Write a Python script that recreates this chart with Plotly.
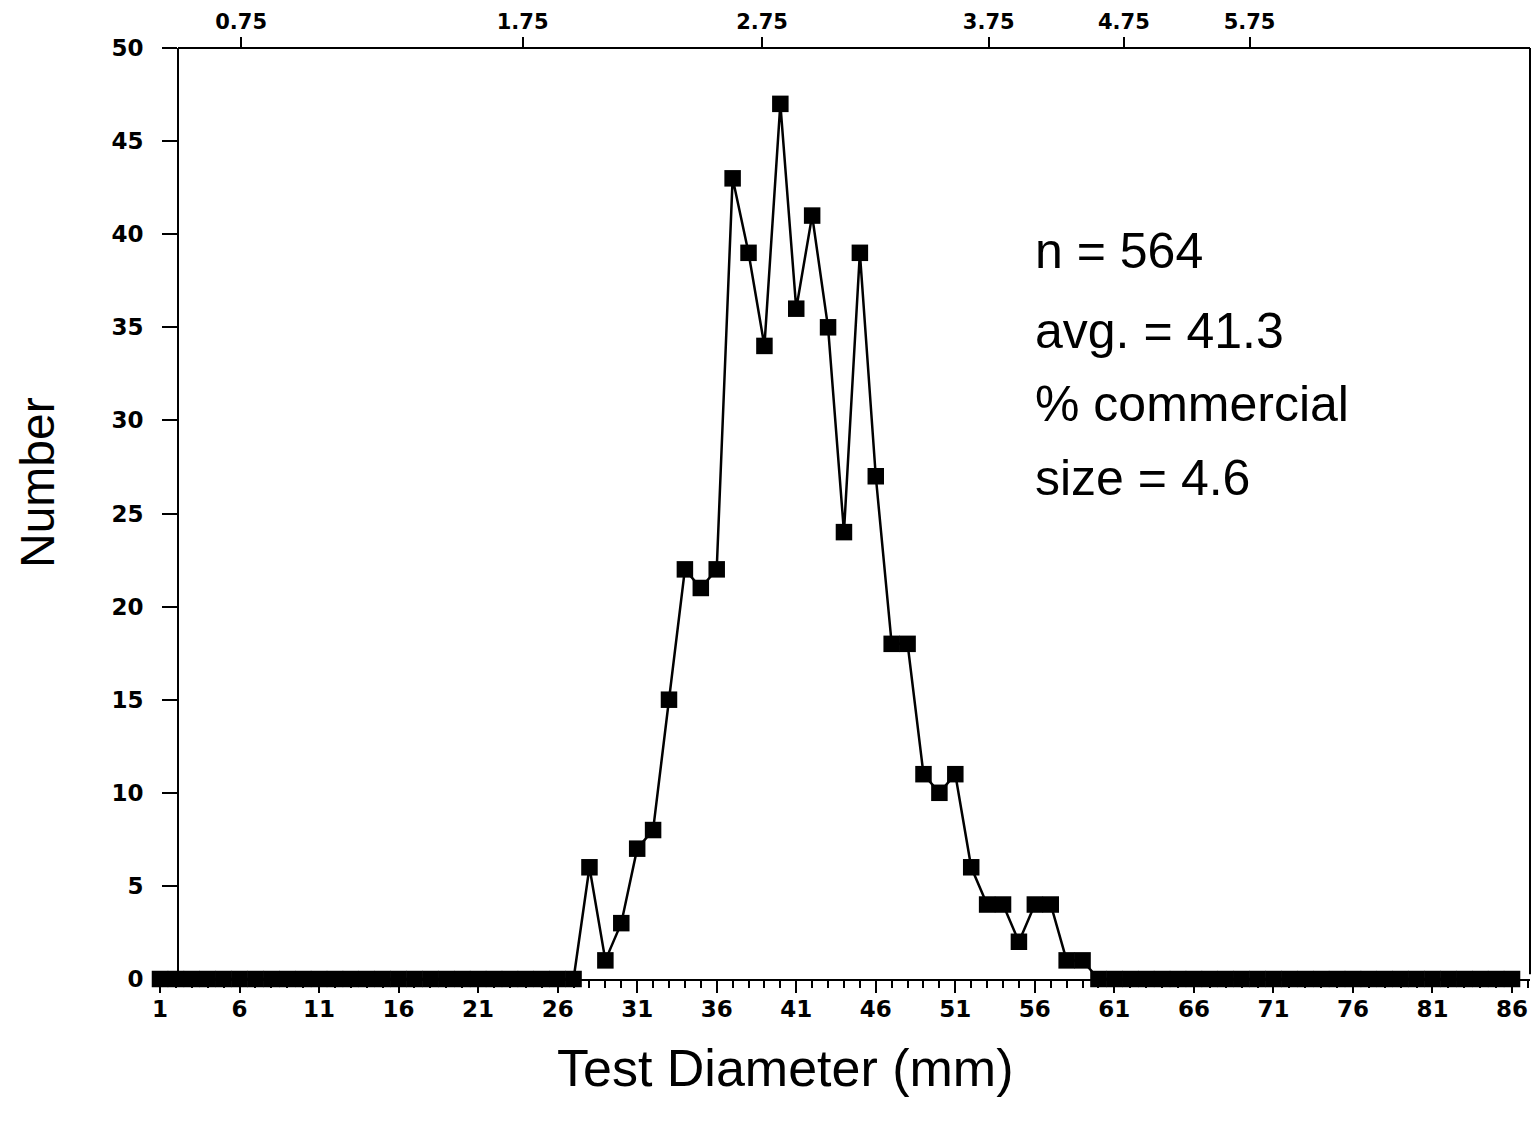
import plotly.graph_objects as go

# ---- data ----
diameters = list(range(1, 87))
counts_nonzero = {
    28: 6, 29: 1, 30: 3, 31: 7, 32: 8, 33: 15, 34: 22, 35: 21, 36: 22,
    37: 43, 38: 39, 39: 34, 40: 47, 41: 36, 42: 41, 43: 35, 44: 24,
    45: 39, 46: 27, 47: 18, 48: 18, 49: 11, 50: 10, 51: 11, 52: 6,
    53: 4, 54: 4, 55: 2, 56: 4, 57: 4, 58: 1, 59: 1,
}
counts = [counts_nonzero.get(d, 0) for d in diameters]

bottom_tick_vals = list(range(1, 87, 5))
y_tick_vals = list(range(0, 51, 5))
top_tick_labels = ["0.75", "1.75", "2.75", "3.75", "4.75", "5.75"]
top_tick_positions = [6.1, 23.8, 38.85, 53.1, 61.6, 69.5]
stats_lines = ["n = 564", "avg. = 41.3", "% commercial", "size = 4.6"]

# ---- style ----
W, H = 1535, 1129
ML, MR, MT, MB = 155, 5, 48, 150
XR = [0.686, 87.13]
YR = [0, 50]
tick_font = dict(family="DejaVu Sans", size=23, color="black", weight="bold")
title_font = "Liberation Sans, Arial, sans-serif"
yaxis_pos = (178 - ML) / (W - ML - MR)

fig = go.Figure()
fig.add_trace(go.Scatter(
    x=diameters, y=counts, mode="lines+markers",
    line=dict(color="black", width=2.5),
    marker=dict(symbol="square", size=16.5, color="black"),
    cliponaxis=False, showlegend=False, hoverinfo="x+y",
))
# invisible trace so the top axis renders
fig.add_trace(go.Scatter(
    x=diameters, y=counts, xaxis="x2", mode="markers",
    marker=dict(opacity=0), showlegend=False, hoverinfo="skip",
))

fig.update_layout(
    width=W, height=H,
    margin=dict(l=ML, r=MR, t=MT, b=MB),
    paper_bgcolor="white", plot_bgcolor="white",
    xaxis=dict(
        range=XR, showgrid=False, zeroline=False,
        showline=True, linecolor="black", linewidth=2,
        tickvals=bottom_tick_vals, ticks="outside", ticklen=12, tickwidth=2,
        tickcolor="black", tickfont=tick_font, ticklabelstandoff=-4,
        minor=dict(tick0=1, dtick=1, ticks="outside", ticklen=7, tickwidth=1.5, tickcolor="black"),
    ),
    xaxis2=dict(
        range=XR, overlaying="x", side="top", anchor="y",
        showgrid=False, zeroline=False, showline=False,
        tickvals=top_tick_positions, ticktext=top_tick_labels,
        ticks="outside", ticklen=10, tickwidth=2, tickcolor="black",
        tickfont=dict(family="DejaVu Sans", size=21, color="black", weight="bold"),
    ),
    yaxis=dict(
        range=YR, showgrid=False, zeroline=False,
        anchor="free", position=yaxis_pos,
        showline=True, linecolor="black", linewidth=2,
        tickvals=y_tick_vals, ticks="outside", ticklen=15, tickwidth=2,
        tickcolor="black", tickfont=tick_font, ticklabelstandoff=14,
    ),
    shapes=[
        dict(type="line", xref="paper", yref="paper", x0=yaxis_pos, x1=1, y0=1, y1=1,
             line=dict(color="black", width=2)),
        dict(type="line", xref="paper", yref="paper", x0=1, x1=1, y0=0.005, y1=1,
             line=dict(color="black", width=2)),
    ],
)

annotations = []
stat_y = [39.1, 34.8, 30.9, 26.9]
for txt, yy in zip(stats_lines, stat_y):
    annotations.append(dict(
        x=55.9, y=yy, xref="x", yref="y", text=txt, showarrow=False,
        xanchor="left", yanchor="middle",
        font=dict(family=title_font, size=50, color="black"),
    ))
annotations.append(dict(
    x=(785 - ML) / (W - ML - MR), y=(979 - 1068) / (979 - MT),
    xref="paper", yref="paper", text="Test Diameter (mm)", showarrow=False,
    xanchor="center", yanchor="middle",
    font=dict(family=title_font, size=52, color="black"),
))
annotations.append(dict(
    x=(37 - ML) / (W - ML - MR), y=(979 - 483) / (979 - MT),
    xref="paper", yref="paper", text="Number", showarrow=False, textangle=-90,
    xanchor="center", yanchor="middle",
    font=dict(family=title_font, size=48, color="black"),
))
fig.update_layout(annotations=annotations)

fig.write_html("out.html")
